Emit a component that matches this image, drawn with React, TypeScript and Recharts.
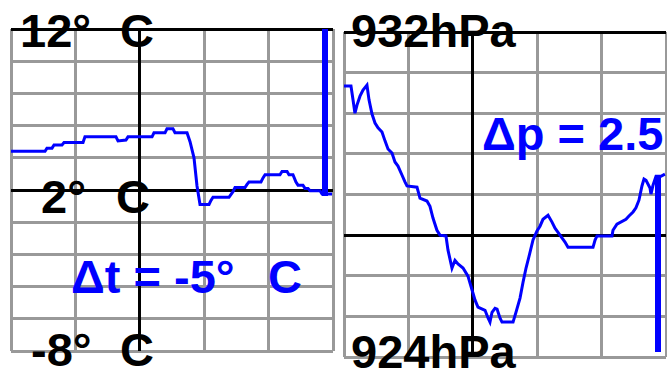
import { LineChart, Line, XAxis, YAxis, CartesianGrid, ReferenceLine } from 'recharts'

// hours since start of the window (each grid column = 6 h)
const tempHours = [
  0, 3.17, 3.35, 3.82, 4.01, 4.75, 4.94, 6.71, 6.89, 9.78, 9.97, 10.71, 10.9, 13.14, 13.32, 14.35, 14.53,
  15.09, 15.28, 16.4, 16.68, 17.05, 17.33, 17.61, 18.45, 18.63, 18.82, 20.31, 20.68, 20.87, 21.8, 21.99,
  22.17, 23.29, 23.48, 23.67, 25.06, 25.25, 25.72, 25.9, 26.27, 26.55, 26.74, 27.2, 27.39, 27.67, 27.86,
  28.79, 28.98, 29.91,
]
const tempValues = [
  4.4, 4.4, 4.6, 4.6, 4.8, 4.8, 4.95, 4.95, 5.3, 5.3, 5.05, 5.1, 5.3, 5.3, 5.55, 5.55, 5.8,
  5.8, 5.56, 5.56, 5.0, 4.0, 2.25, 1.1, 1.1, 1.35, 1.55, 1.55, 1.9, 2.15, 2.15, 2.35,
  2.5, 2.5, 2.75, 2.95, 2.95, 3.15, 3.15, 2.95, 2.95, 2.5, 2.3, 2.3, 2.1, 2.1, 1.95,
  1.95, 1.75, 1.75,
]

const pressHours = [
  0, 0.65, 0.84, 1.02, 1.21, 1.49, 1.77, 2.14, 2.33, 2.61, 2.89, 3.17, 3.54, 3.82, 4.1, 4.47, 4.75, 5.03,
  5.4, 5.68, 5.87, 6.8, 7.08, 7.73, 8.01, 8.29, 8.66, 8.94, 9.5, 9.69, 10.06, 10.34, 10.62, 11.09, 11.55,
  11.93, 12.21, 12.48, 13.14, 13.42, 13.6, 13.79, 14.07, 14.26, 14.53, 14.72, 15.75, 16.02, 16.4, 16.68,
  16.96, 17.24, 17.61, 17.98, 18.26, 18.54, 19.01, 19.38, 19.66, 19.94, 20.31, 20.59, 20.87, 23.2, 23.39,
  23.57, 24.97, 25.06, 25.43, 26.27, 26.55, 26.93, 27.2, 27.48, 27.76, 27.95, 28.14, 28.51, 28.6, 28.79,
  29.07, 29.53, 29.9,
]
const pressValues = [
  930.67, 930.67, 930.33, 930.0, 930.2, 930.42, 930.57, 930.69, 930.33, 929.98, 929.76, 929.64, 929.54,
  929.32, 929.12, 929.02, 928.8, 928.7, 928.48, 928.31, 928.21, 928.18, 927.91, 927.84, 927.71, 927.42,
  927.12, 927.0, 926.98, 926.63, 926.19, 926.38, 926.29, 926.19, 925.99, 925.65, 925.4, 925.23, 925.15,
  924.96, 924.86, 925.1, 925.2, 925.18, 924.96, 924.86, 924.86, 925.1, 925.45, 925.84, 926.19, 926.48,
  926.88, 927.1, 927.22, 927.39, 927.49, 927.32, 927.17, 927.07, 926.93, 926.83, 926.7, 926.7, 926.88,
  926.98, 926.98, 927.12, 927.27, 927.39, 927.47, 927.57, 927.67, 927.86, 928.21, 928.38, 928.35, 928.16,
  928.01, 928.23, 928.45, 928.45, 928.5,
]

const hourTicks = [0, 6, 12, 18, 24]
const tempTicks = [-6, -4, -2, 0, 2, 4, 6, 8, 10, 12]
const pressTicks = [925, 926, 927, 928, 929, 930, 931, 932]

const cursorHour = 29.3
const tempCursor = [12, 1.6]
const pressCursor = [928.45, 924.12]

const tempData = tempHours.map((h, i) => ({ h, t: tempValues[i] }))
const pressData = pressHours.map((h, i) => ({ h, p: pressValues[i] }))

const BLUE = '#0000ff'
const GRAY = '#999999'

const font = { fontFamily: '"Liberation Sans", Arial, sans-serif', fontWeight: 700, fontSize: 47 }

export default function App() {
  return (
    <div style={{ position: 'fixed', left: 0, top: 0, width: 667, height: 373, overflow: 'hidden', background: '#fff' }}>
      <div style={{ position: 'absolute', left: 0, top: 0 }}>
        <LineChart width={340} height={373} data={tempData} margin={{ top: 29, left: 11, right: 7, bottom: 22 }}>
          <CartesianGrid stroke={GRAY} strokeWidth={3} shapeRendering="crispEdges" />
          <XAxis dataKey="h" type="number" domain={[0, 30]} ticks={hourTicks} hide allowDataOverflow />
          <YAxis type="number" domain={[-8, 12]} ticks={tempTicks} hide allowDataOverflow />
          <ReferenceLine y={12} stroke="#000" strokeWidth={3} shapeRendering="crispEdges" />
          <ReferenceLine y={2} stroke="#000" strokeWidth={3} shapeRendering="crispEdges" />
          <ReferenceLine x={12} stroke="#000" strokeWidth={3} shapeRendering="crispEdges" />
          <Line dataKey="t" stroke={BLUE} strokeWidth={3} dot={false} type="linear" isAnimationActive={false} />
          <ReferenceLine
            segment={[{ x: cursorHour, y: tempCursor[0] }, { x: cursorHour, y: tempCursor[1] }]}
            stroke={BLUE}
            strokeWidth={6}
            shapeRendering="crispEdges"
          />
        </LineChart>
      </div>
      <div style={{ position: 'absolute', left: 340, top: 0 }}>
        <LineChart width={327} height={373} data={pressData} margin={{ top: 32, left: 4, right: 1, bottom: 16 }}>
          <CartesianGrid stroke={GRAY} strokeWidth={3} shapeRendering="crispEdges" />
          <XAxis dataKey="h" type="number" domain={[0, 30]} ticks={hourTicks} hide allowDataOverflow />
          <YAxis type="number" domain={[924, 932]} ticks={pressTicks} hide allowDataOverflow />
          <ReferenceLine y={932} stroke="#000" strokeWidth={3} shapeRendering="crispEdges" />
          <ReferenceLine y={927} stroke="#000" strokeWidth={3} shapeRendering="crispEdges" />
          <ReferenceLine x={12} stroke="#000" strokeWidth={3} shapeRendering="crispEdges" />
          <Line dataKey="p" stroke={BLUE} strokeWidth={3} dot={false} type="linear" isAnimationActive={false} />
          <ReferenceLine
            segment={[{ x: cursorHour, y: pressCursor[0] }, { x: cursorHour, y: pressCursor[1] }]}
            stroke={BLUE}
            strokeWidth={6}
            shapeRendering="crispEdges"
          />
        </LineChart>
      </div>
      <svg width={667} height={373} style={{ position: 'absolute', left: 0, top: 0 }}>
        <g style={font}>
          <text x={20} y={47} fill="#000">12°</text>
          <text x={120} y={47} fill="#000">C</text>
          <text x={41} y={213} fill="#000">2°</text>
          <text x={116} y={213} fill="#000">C</text>
          <text x={31} y={366} fill="#000">-8°</text>
          <text x={120} y={366} fill="#000">C</text>
          <text x={71} y={293} fill={BLUE}>Δt = -5°</text>
          <text x={268} y={293} fill={BLUE}>C</text>
          <text x={351} y={47} fill="#000">932hPa</text>
          <text x={351} y={368} fill="#000">924hPa</text>
          <text x={482} y={150} fill={BLUE}>Δp = 2.5</text>
        </g>
      </svg>
    </div>
  )
}
